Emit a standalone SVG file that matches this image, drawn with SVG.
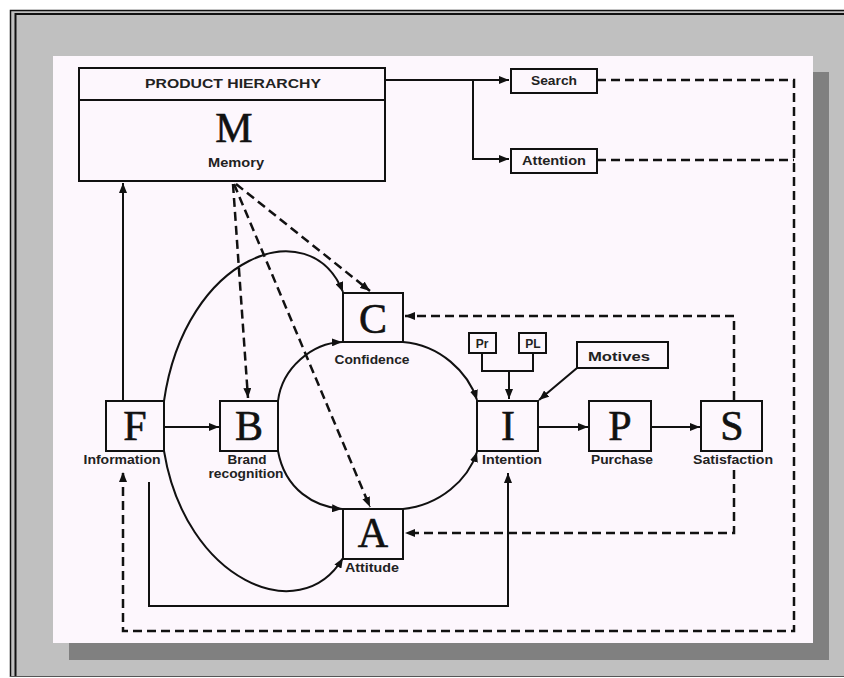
<svg xmlns="http://www.w3.org/2000/svg" width="844" height="678" viewBox="0 0 844 678">
<defs>
<marker id="ah" viewBox="0 0 10 8" refX="10" refY="4" markerWidth="10" markerHeight="8" markerUnits="userSpaceOnUse" orient="auto">
<path d="M0,0 L10,4 L0,8 Z" fill="#111"/>
</marker>
</defs>
<style>
.box{fill:none;stroke:#111;stroke-width:2}
.ln{fill:none;stroke:#111;stroke-width:2}
.ds{fill:none;stroke:#111;stroke-width:2.5;stroke-dasharray:9 5}
.big{font-family:"Liberation Serif","Times New Roman",serif;font-size:42px;fill:#111;text-anchor:middle;stroke:#111;stroke-width:0.6}
.lb{font-family:"Liberation Sans",Arial,sans-serif;font-weight:bold;font-size:12px;fill:#222;text-anchor:middle}
</style>
<rect x="0" y="0" width="844" height="678" fill="#ffffff"/>
<rect x="10" y="10" width="840" height="667" fill="#c0c0c0"/>
<path d="M10.5,677 V10.5 H844" fill="none" stroke="#111" stroke-width="1.5"/>
<path d="M15.5,677 V14 H844" fill="none" stroke="#111" stroke-width="2"/>
<path d="M10,676.5 H844" stroke="#555" stroke-width="1"/>
<rect x="69" y="72" width="760" height="588" fill="#808080"/>
<rect x="53" y="56" width="760" height="587" fill="#fdf7fd"/>

<g id="connectors">
<path class="ln" d="M385,80 H509" marker-end="url(#ah)"/>
<path class="ln" d="M473,80 V159 H509" marker-end="url(#ah)"/>
<path class="ds" d="M597,80 H794 V631 H123 V472" marker-end="url(#ah)"/>
<path class="ds" d="M597,160 H794"/>
<path class="ln" d="M123,401 V183" marker-end="url(#ah)"/>
<path class="ln" d="M164,427 H219" marker-end="url(#ah)"/>
<path class="ds" d="M233,184 L248,398" marker-end="url(#ah)"/>
<path class="ds" d="M234,184 L370,507" marker-end="url(#ah)"/>
<path class="ds" d="M236,184 L370,291" marker-end="url(#ah)"/>
<path class="ln" d="M164,401 C185,255 310,210 343,292" marker-end="url(#ah)"/>
<path class="ln" d="M164,451 C185,580 300,630 343,558" marker-end="url(#ah)"/>
<path class="ln" d="M278,401 C282,368 312,343 342,342" marker-end="url(#ah)"/>
<path class="ln" d="M278,451 C285,490 315,507 342,509" marker-end="url(#ah)"/>
<path class="ln" d="M403,342 C440,345 468,372 477,400" marker-end="url(#ah)"/>
<path class="ln" d="M403,509 C440,505 468,480 477,452" marker-end="url(#ah)"/>
<path class="ln" d="M538,427 H588" marker-end="url(#ah)"/>
<path class="ln" d="M651,427 H700" marker-end="url(#ah)"/>
<path class="ln" d="M482,353 V371 H533 V353"/>
<path class="ln" d="M509,371 V399" marker-end="url(#ah)"/>
<path class="ln" d="M577,368 L539,400" marker-end="url(#ah)"/>
<path class="ds" d="M734,400 V316 H405" marker-end="url(#ah)"/>
<path class="ds" d="M734,470 V533 H405" marker-end="url(#ah)"/>
<path class="ln" d="M149,482 V606 H508 V473" marker-end="url(#ah)"/>
</g>

<g id="M">
<rect class="box" x="79" y="68" width="306" height="113"/>
<path class="ln" d="M79,100 H385"/>
<text class="lb" x="233" y="88" textLength="176" lengthAdjust="spacingAndGlyphs" font-size="13">PRODUCT HIERARCHY</text>
<text class="big" x="234" y="142">M</text>
<text class="lb" x="236" y="167" textLength="56" lengthAdjust="spacingAndGlyphs">Memory</text>
</g>
<g id="Search">
<rect class="box" x="511" y="69" width="86" height="24"/>
<text class="lb" x="554" y="85" textLength="46" lengthAdjust="spacingAndGlyphs">Search</text>
</g>
<g id="Attention">
<rect class="box" x="511" y="149" width="86" height="24"/>
<text class="lb" x="554" y="165" textLength="64" lengthAdjust="spacingAndGlyphs">Attention</text>
</g>
<g id="F">
<rect class="box" x="106" y="401" width="58" height="50"/>
<text class="big" x="135" y="440">F</text>
<text class="lb" x="122" y="464" textLength="77" lengthAdjust="spacingAndGlyphs">Information</text>
</g>
<g id="B">
<rect class="box" x="220" y="401" width="58" height="50"/>
<text class="big" x="249" y="440">B</text>
<text class="lb" x="247" y="464" textLength="39" lengthAdjust="spacingAndGlyphs">Brand</text>
<text class="lb" x="246" y="478" textLength="75" lengthAdjust="spacingAndGlyphs">recognition</text>
</g>
<g id="C">
<rect class="box" x="343" y="293" width="60" height="49"/>
<text class="big" x="373" y="333">C</text>
<text class="lb" x="372" y="364" textLength="75" lengthAdjust="spacingAndGlyphs">Confidence</text>
</g>
<g id="A">
<rect class="box" x="343" y="509" width="60" height="50"/>
<text class="big" x="373" y="547">A</text>
<text class="lb" x="372" y="572" textLength="54" lengthAdjust="spacingAndGlyphs">Attitude</text>
</g>
<g id="Pr">
<rect class="box" x="469" y="333" width="27" height="20"/>
<text class="lb" x="482" y="348" font-size="11">Pr</text>
</g>
<g id="PL">
<rect class="box" x="519" y="333" width="27" height="20"/>
<text class="lb" x="533" y="348" font-size="11">PL</text>
</g>
<g id="Motives">
<rect class="box" x="577" y="342" width="91" height="26"/>
<text class="lb" x="619" y="361" font-size="14" textLength="62" lengthAdjust="spacingAndGlyphs">Motives</text>
</g>
<g id="I">
<rect class="box" x="477" y="401" width="61" height="50"/>
<text class="big" x="508" y="440">I</text>
<text class="lb" x="512" y="464" textLength="60" lengthAdjust="spacingAndGlyphs">Intention</text>
</g>
<g id="P">
<rect class="box" x="589" y="401" width="62" height="50"/>
<text class="big" x="620" y="440">P</text>
<text class="lb" x="622" y="464" textLength="62" lengthAdjust="spacingAndGlyphs">Purchase</text>
</g>
<g id="S">
<rect class="box" x="701" y="401" width="61" height="50"/>
<text class="big" x="732" y="440">S</text>
<text class="lb" x="733" y="464" textLength="80" lengthAdjust="spacingAndGlyphs">Satisfaction</text>
</g>
</svg>
